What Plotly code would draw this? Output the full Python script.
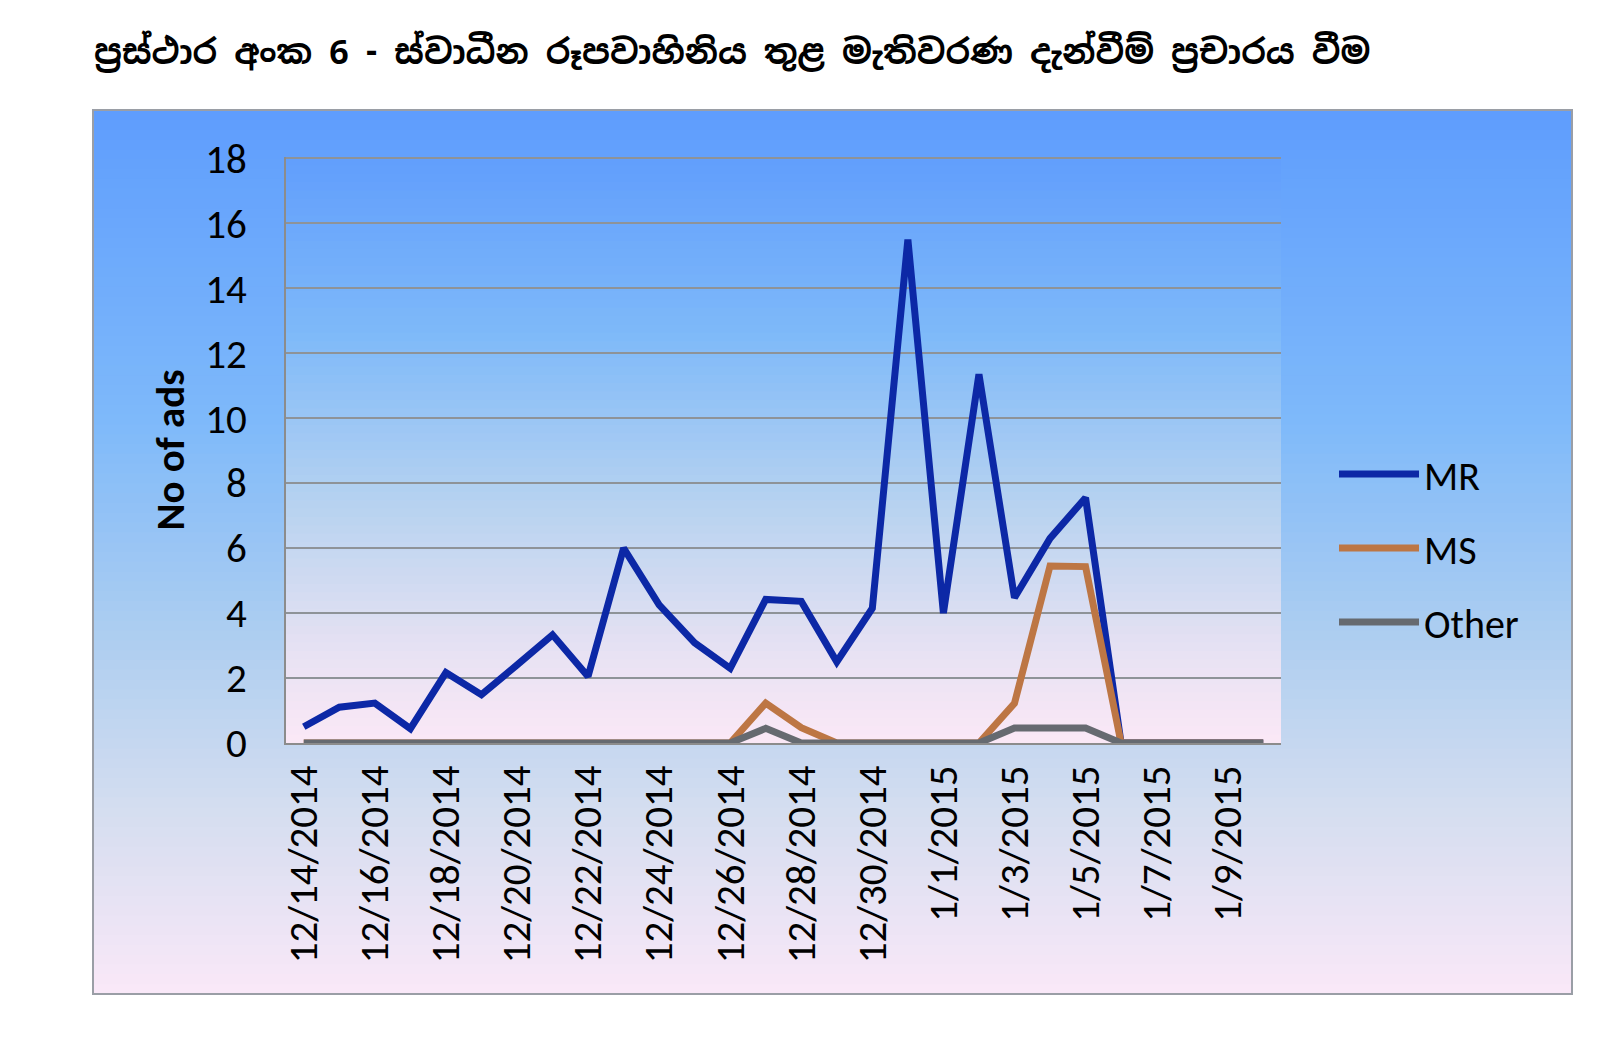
import plotly.graph_objects as go

# ---------------- data ----------------
dates = ["12/14/2014", "12/15/2014", "12/16/2014", "12/17/2014", "12/18/2014", "12/19/2014",
         "12/20/2014", "12/21/2014", "12/22/2014", "12/23/2014", "12/24/2014", "12/25/2014",
         "12/26/2014", "12/27/2014", "12/28/2014", "12/29/2014", "12/30/2014", "12/31/2014",
         "1/1/2015", "1/2/2015", "1/3/2015", "1/4/2015", "1/5/2015", "1/6/2015",
         "1/7/2015", "1/8/2015", "1/9/2015", "1/10/2015"]
mr = [0.5, 1.1, 1.23, 0.44, 2.17, 1.49, 2.4, 3.33, 2.05, 6.0, 4.25, 3.08, 2.3, 4.42,
      4.36, 2.5, 4.15, 15.5, 4.0, 11.35, 4.47, 6.3, 7.55, 0, 0, 0, 0, 0]
ms = [0, 0, 0, 0, 0, 0, 0, 0, 0, 0, 0, 0, 0, 1.23, 0.47, 0, 0, 0, 0, 0, 1.22, 5.45,
      5.43, 0, 0, 0, 0, 0]
other = [0, 0, 0, 0, 0, 0, 0, 0, 0, 0, 0, 0, 0, 0.45, 0, 0, 0, 0, 0, 0, 0.46, 0.46,
         0.46, 0, 0, 0, 0, 0]
tick_labels = dates[::2]
y_ticks = list(range(0, 19, 2))

title_text = "ප්\u200dරස්ථාර අංක 6 - ස්වාධීන රූපවාහිනිය තුළ මැතිවරණ දැන්වීම් ප්\u200dරචාරය වීම"

# ---------------- styling ----------------
FONT = "Carlito, Lato, 'Open Sans', sans-serif"
SIN_FONT = "'Noto Sans Sinhala', 'Noto Serif Sinhala', 'Iskoola Pota', 'Noto Sans', sans-serif"
FS = 41

W, H = 1600, 1045
L, R, T, B = 278, 1273, 149, 735


def px_x(p):
    return (p - L) / (R - L)


def px_y(p):
    return (B - p) / (B - T)


def interp(stops, f):
    for (f0, c0), (f1, c1) in zip(stops[:-1], stops[1:]):
        if f0 <= f <= f1:
            t = (f - f0) / (f1 - f0) if f1 > f0 else 0
            c = [round(a + (b - a) * t) for a, b in zip(c0, c1)]
            return "rgb(%d,%d,%d)" % tuple(c)
    return "rgb(%d,%d,%d)" % stops[-1][1]


frame_stops = [(0.0, (94, 157, 253)), (0.35, (126, 185, 250)), (0.6, (174, 206, 240)),
               (0.8, (214, 222, 240)), (1.0, (250, 232, 248))]
plot_stops = [(0.0, (97, 158, 252)), (0.3, (126, 185, 249)), (0.6, (184, 211, 240)),
              (0.85, (232, 226, 243)), (1.0, (251, 232, 246))]

shapes = []
# outer frame gradient
fx0, fx1, fy0, fy1 = px_x(85), px_x(1564), px_y(986), px_y(102)
N = 90
for i in range(N):
    a = fy1 - (fy1 - fy0) * i / N
    b = max(fy1 - (fy1 - fy0) * (i + 1.3) / N, fy0)
    shapes.append(dict(type="rect", xref="paper", yref="paper", x0=fx0, x1=fx1, y0=b, y1=a,
                       fillcolor=interp(frame_stops, (i + 0.5) / N), line_width=0, layer="below"))
shapes.append(dict(type="rect", xref="paper", yref="paper", x0=fx0, x1=fx1, y0=fy0, y1=fy1,
                   fillcolor="rgba(0,0,0,0)", line=dict(color="#9a9ea6", width=2), layer="below"))
# plot-area gradient
M = 70
for i in range(M):
    a = 1 - i / M
    b = max(0, 1 - (i + 1.3) / M)
    shapes.append(dict(type="rect", xref="x domain", yref="y domain", x0=0, x1=1, y0=b, y1=a,
                       fillcolor=interp(plot_stops, (i + 0.5) / M), line_width=0, layer="below"))

fig = go.Figure()
fig.add_trace(go.Scatter(x=dates, y=mr, name="MR", mode="lines", legendgroup="a",
                         line=dict(color="#0c28a6", width=7)))
fig.add_trace(go.Scatter(x=dates, y=ms, name="MS", mode="lines", legendgroup="b",
                         line=dict(color="#bd7644", width=7)))
fig.add_trace(go.Scatter(x=dates, y=other, name="Other", mode="lines", legendgroup="c",
                         line=dict(color="#666a70", width=7)))

fig.update_layout(
    width=W, height=H,
    margin=dict(l=L, r=W - R, t=T, b=H - B),
    paper_bgcolor="white",
    plot_bgcolor="rgba(0,0,0,0)",
    shapes=shapes,
    font=dict(family=FONT, size=FS, color="black"),
    showlegend=True,
    legend=dict(x=px_x(1326), xanchor="left", y=px_y(540), yanchor="middle",
                bgcolor="rgba(0,0,0,0)", font=dict(family=FONT, size=FS - 1, color="black"),
                itemwidth=80, tracegroupgap=19, traceorder="grouped"),
    annotations=[dict(text=title_text, xref="paper", yref="paper", x=px_x(84), y=px_y(44),
                      xanchor="left", yanchor="middle", showarrow=False,
                      font=dict(family=SIN_FONT, size=34, color="black", weight="bold"))],
)
fig.update_xaxes(type="category", range=[-0.5, len(dates) - 0.5],
                 tickmode="array", tickvals=tick_labels, ticktext=tick_labels,
                 tickangle=-90, ticks="", ticklabelstandoff=4,
                 tickfont=dict(family=FONT, size=FS, color="black"),
                 showgrid=False, showline=True, linecolor="#8c8c8c", linewidth=2,
                 zeroline=False)
fig.update_yaxes(range=[0, 18.04], tickmode="array", tickvals=y_ticks,
                 ticks="", ticklabelstandoff=29,
                 tickfont=dict(family=FONT, size=FS, color="black"),
                 showgrid=True, gridcolor="#8e9398", gridwidth=2,
                 showline=True, linecolor="#8c8c8c", linewidth=2, zeroline=False,
                 title=dict(text="<b>No of ads</b>", standoff=8,
                            font=dict(family=FONT, size=FS, color="black")))

fig.write_html("out.html")
